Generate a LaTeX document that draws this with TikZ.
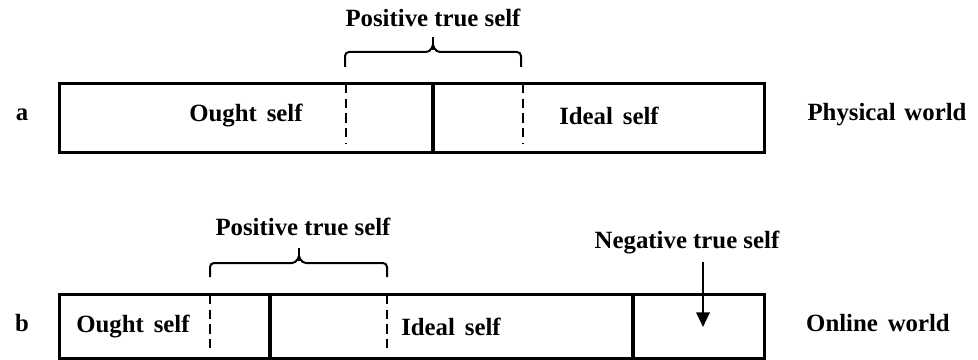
\documentclass[tikz,border=0pt]{standalone}
\usepackage{fontspec}
\setmainfont{Liberation Serif}
\usetikzlibrary{arrows.meta}
\begin{document}
\begin{tikzpicture}[x=0.75pt,y=-0.75pt,
  lbl/.style={font=\bfseries\fontsize{18.6}{22}\selectfont, inner sep=0pt, anchor=center},
  frame/.style={draw, line width=2.3pt, inner sep=0pt},
  solidline/.style={line width=2.3pt},
  dashline/.style={line width=1.5pt, dash pattern=on 7pt off 4pt},
  bracepath/.style={line width=1.5pt, rounded corners=3pt},
  arrowline/.style={line width=1.5pt, -{Triangle[length=11pt,width=10pt]}}]
\useasboundingbox (0,0) rectangle (978,360);
% ---------- a ----------
\node[frame, minimum width=705*0.75pt, minimum height=69*0.75pt, anchor=north west] (boxa) at (58,82) {};
\coordinate (a1t) at (433,82); \coordinate (a1b) at (433,151);
\draw[solidline] (a1t) -- (a1b);
\coordinate (ad1t) at (346,84); \coordinate (ad1b) at (346,143);
\coordinate (ad2t) at (523,84); \coordinate (ad2b) at (523,143);
\draw[dashline] (ad1t) -- (ad1b);
\draw[dashline] (ad2t) -- (ad2b);
\node[lbl] (la) at (22,115) {a};
\node[lbl] (oughta) at (246,116) {Ought\hspace{0.15em} self};
\node[lbl] (ideala) at (609,116) {Ideal\hspace{0.15em} self};
\node[lbl] (phys) at (887,115) {Physical\hspace{0.1em} world};
\node[lbl] (posa) at (433,18) {Positive true self};
\coordinate (bal) at (345,67); \coordinate (bar) at (521,67);
\draw[bracepath] (bal) -- (345,52) -- (430,52) -- (433,45);
\draw[bracepath] (bar) -- (521,52) -- (436,52) -- (433,45);
\draw[line width=1.5pt] (433,50) -- (433,37);
% ---------- b ----------
\node[frame, minimum width=705*0.75pt, minimum height=64*0.75pt, anchor=north west] (boxb) at (58,293) {};
\coordinate (b1t) at (270,293); \coordinate (b1b) at (270,357);
\coordinate (b2t) at (633,293); \coordinate (b2b) at (633,357);
\draw[solidline] (b1t) -- (b1b);
\draw[solidline] (b2t) -- (b2b);
\coordinate (bd1t) at (210,295); \coordinate (bd1b) at (210,353);
\coordinate (bd2t) at (387,295); \coordinate (bd2b) at (387,353);
\draw[dashline] (bd1t) -- (bd1b);
\draw[dashline] (bd2t) -- (bd2b);
\node[lbl] (lb) at (22,323) {b};
\node[lbl] (oughtb) at (133,327) {Ought\hspace{0.15em} self};
\node[lbl] (idealb) at (451,327) {Ideal\hspace{0.15em} self};
\node[lbl] (online) at (878,323) {Online\hspace{0.15em} world};
\node[lbl] (posb) at (303,227) {Positive true self};
\coordinate (bbl) at (210,277); \coordinate (bbr) at (387,277);
\draw[bracepath] (bbl) -- (210,263) -- (296,263) -- (299,256);
\draw[bracepath] (bbr) -- (387,263) -- (302,263) -- (299,256);
\draw[line width=1.5pt] (299,261) -- (299,248);
\node[lbl] (neg) at (687,243) {Negative true self};
\coordinate (negtip) at (703,327);
\draw[arrowline] (703,262) -- (negtip);
\end{tikzpicture}
\end{document}
